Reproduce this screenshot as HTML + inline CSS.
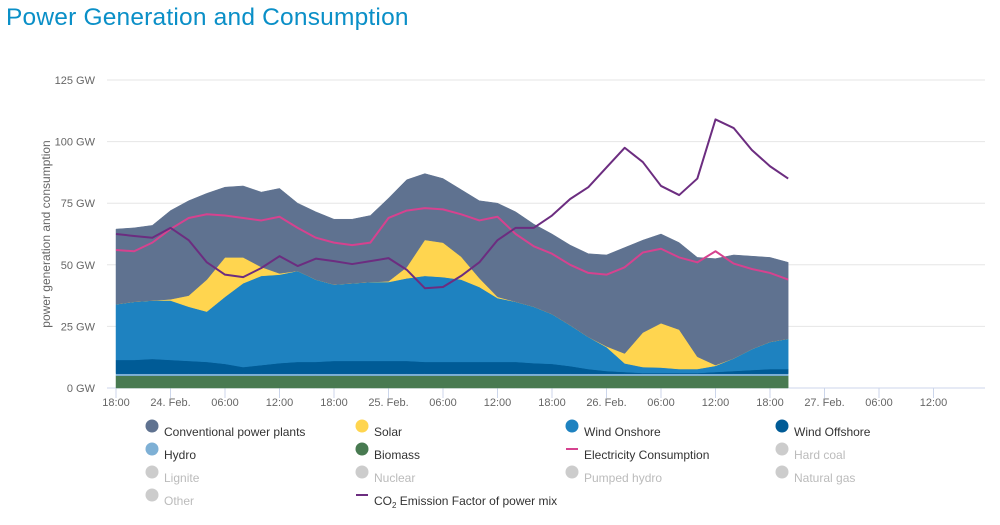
<!DOCTYPE html>
<html><head><meta charset="utf-8">
<style>
body{margin:0;background:#fff;width:1000px;height:525px;overflow:hidden;font-family:"Liberation Sans",sans-serif;}
#title{position:absolute;left:6px;top:4px;font-size:24.5px;color:#0a8fc7;letter-spacing:0.2px;margin:0;font-weight:normal;}
svg{position:absolute;left:0;top:0;}
</style></head><body>
<h1 id="title">Power Generation and Consumption</h1>
<svg id="chart" width="1000" height="525"></svg>
<script>
const hours=[0,2,4,6,8,10,12,14,16,18,20,22,24,26,28,30,32,34,36,38,40,42,44,46,48,50,52,54,56,58,60,62,64,66,68,70,72,74];
const biomass=[5,5,5,5,5,5,5,5,5,5,5,5,5,5,5,5,5,5,5,5,5,5,5,5,5,5,5,5,5,5,5,5,5,5,5,5,5,5];
const hydro=[0.8,0.8,0.8,0.8,0.8,0.8,0.8,0.8,0.8,0.8,0.8,0.8,0.8,0.8,0.8,0.8,0.8,0.8,0.8,0.8,0.8,0.8,0.8,0.8,0.8,0.8,0.8,0.8,0.8,0.8,0.8,0.8,0.8,0.8,0.8,0.8,0.8,0.8];
const windOffshore=[5.6,5.6,6.0,5.6,5.2,4.8,4.0,2.7,3.5,4.3,4.8,4.8,5.2,5.2,5.2,5.2,5.2,4.8,4.8,4.8,4.8,4.8,4.8,4.3,4.0,3.1,1.9,1.1,0.7,0.3,0.3,0.3,0.3,0.7,1.1,1.5,1.9,1.9];
const windOnshore=[22.6,23.6,23.7,24.1,22.0,20.4,27.2,34.0,36.2,35.9,36.9,33.4,31.0,31.5,32.0,32.0,33.5,34.9,34.4,33.4,30.4,25.9,24.4,22.9,20.2,16.6,13.0,9.7,3.5,2.4,2.2,1.6,1.6,2.5,5.1,8.5,11.0,12.3];
const solar=[0,0,0,0.5,4.5,13,16,10.5,3.6,0.5,0,0,0,0,0,0.3,4.5,14.6,14,9.3,3.6,0.5,0,0,0,0,0,0.3,4,14,18,16,5,0.3,0,0,0,0];
const conventional=[30.5,30,30.5,36,38.5,35,28.5,29,30.4,34.5,27.5,27.5,26.5,26,27,33.7,35.5,26.9,26,27.2,31.4,38,36.5,33.5,32.5,32.5,33.8,37.1,43,37.5,36.2,35.3,40.3,43.2,42,37.7,34.3,31];
const consumption=[56,55.5,59,64.5,69,70.5,70,69,68,69.5,65,61,59,58,59,69,72,73,72.5,70.5,68,69.5,62.5,57.5,54.5,50,46.7,46,49,55,56.5,53,51,55.5,50.5,48.3,46.7,44];
const co2=[62.5,61.7,61,65,60,51,46,45,48.7,53.5,49.5,52.5,51.5,50.3,51.5,52.7,48,40.5,41,45.5,51,60,65,65,70,76.7,81.5,89.5,97.5,91.7,82,78.3,85,109,105.5,96.6,90,85];
const yTicks=[0,25,50,75,100,125];
const xTickHours=[0,6,12,18,24,30,36,42,48,54,60,66,72,78,84,90];
const xTickLabels=["18:00","24. Feb.","06:00","12:00","18:00","25. Feb.","06:00","12:00","18:00","26. Feb.","06:00","12:00","18:00","27. Feb.","06:00","12:00"];

const NS="http://www.w3.org/2000/svg";
const svg=document.getElementById('chart');
const X=h=>116+h*(54.5/6);
const Y=v=>388-v*(308/125);
function mk(tag,attrs,parent){const e=document.createElementNS(NS,tag);for(const k in attrs)e.setAttribute(k,attrs[k]);(parent||svg).appendChild(e);return e;}

yTicks.forEach(v=>{
  const g=mk('line',{x1:107,x2:985,y1:Y(v),y2:Y(v),stroke:v===0?'#ccd6eb':'#e6e6e6','stroke-width':1});
  
  
  const t=mk('text',{x:95,y:Y(v)+4,'text-anchor':'end','font-size':11,fill:'#666'});
  t.textContent=v+' GW';
  
  
});
xTickHours.forEach((h,i)=>{
  const l=mk('line',{x1:X(h),x2:X(h),y1:388,y2:398,stroke:'#ccd6eb'});
  
  
  const t=mk('text',{x:X(h),y:406,'text-anchor':'middle','font-size':11,fill:'#666'});
  t.textContent=xTickLabels[i];
  
  
});
const yt=mk('text',{x:50,y:234,'text-anchor':'middle','font-size':12,fill:'#666',transform:'rotate(-90 50 234)'});
yt.textContent='power generation and consumption';



const stack=[['biomass',biomass,'#487a51'],['hydro',hydro,'#7eb0d5'],['wind-offshore',windOffshore,'#005b96'],['wind-onshore',windOnshore,'#1e82c0'],['solar',solar,'#ffd54f'],['conventional',conventional,'#5f7290']];
let base=hours.map(()=>0);
stack.forEach(([name,vals,col])=>{
  const top=base.map((b,i)=>b+vals[i]);
  let d='M'+hours.map((h,i)=>X(h)+','+Y(top[i])).join('L');
  for(let i=hours.length-1;i>=0;i--)d+='L'+X(hours[i])+','+Y(base[i]);
  const p=mk('path',{d:d+'Z',fill:col,stroke:col,'stroke-width':0.5});
  
  
  base=top;
});
[['consumption-line',consumption,'#d6428f'],['co2-line',co2,'#6c2d80']].forEach(([name,vals,col])=>{
  const p=mk('path',{d:'M'+hours.map((h,i)=>X(h)+','+Y(vals[i])).join('L'),fill:'none',stroke:col,'stroke-width':2,'stroke-linejoin':'round'});
  
  
});

const legend=[
 ['Conventional power plants','#5f7290','dot',152,428,1],['Solar','#ffd54f','dot',362,428,1],['Wind Onshore','#1e82c0','dot',572,428,1],['Wind Offshore','#005b96','dot',782,428,1],
 ['Hydro','#7eb0d5','dot',152,451,1],['Biomass','#487a51','dot',362,451,1],['Electricity Consumption','#d6428f','line',572,451,1],['Hard coal','#ccc','dot',782,451,0],
 ['Lignite','#ccc','dot',152,474,0],['Nuclear','#ccc','dot',362,474,0],['Pumped hydro','#ccc','dot',572,474,0],['Natural gas','#ccc','dot',782,474,0],
 ['Other','#ccc','dot',152,497,0],['CO2','#6c2d80','line',362,497,1]];
legend.forEach(([label,col,type,x,y,on])=>{
  const g=mk('g',{});
  
  
  if(type==='dot')mk('circle',{cx:x,cy:y-2,r:6.5,fill:col},g);
  else mk('line',{x1:x-6,x2:x+6,y1:y-2,y2:y-2,stroke:col,'stroke-width':2},g);
  const t=mk('text',{x:x+12,y:y+8,'font-size':12,fill:on?'#333':'#bbb'},g);
  if(label==='CO2'){t.innerHTML='CO<tspan font-size="8" dy="3">2</tspan><tspan dy="-3"> Emission Factor of power mix</tspan>';}
  else t.textContent=label;
});
</script>
</body></html>
